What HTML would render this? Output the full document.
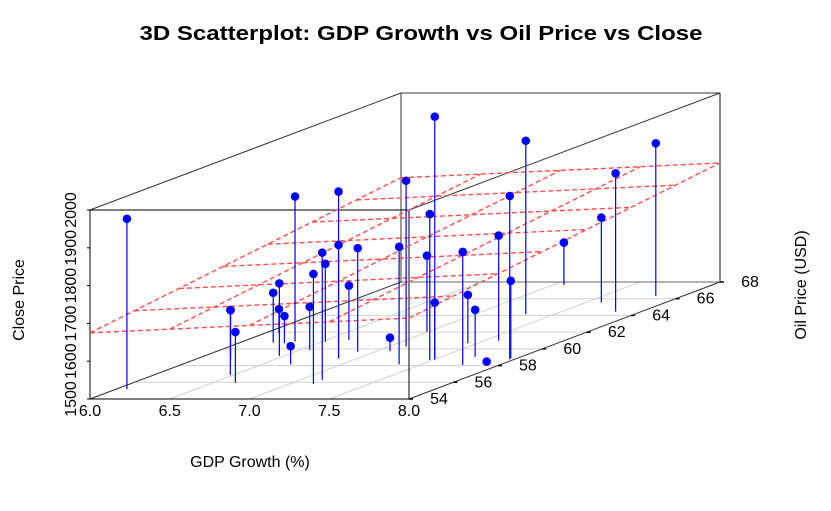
<!DOCTYPE html>
<html><head><meta charset="utf-8"><style>
body{margin:0;background:#fff;}
svg{display:block;font-family:"Liberation Sans",Arial,sans-serif;}
</style></head><body>
<svg id="chart" width="831" height="511" viewBox="0 0 831 511" xmlns="http://www.w3.org/2000/svg">
<rect width="831" height="511" fill="#fff"/>
<text x="421" y="40" text-anchor="middle" font-size="20" font-weight="bold" textLength="563" lengthAdjust="spacingAndGlyphs">3D Scatterplot: GDP Growth vs Oil Price vs Close</text>
<text x="250" y="467" text-anchor="middle" font-size="16">GDP Growth (%)</text>
<text transform="translate(24,300) rotate(-90)" text-anchor="middle" font-size="16">Close Price</text>
<text transform="translate(806,285) rotate(-90)" text-anchor="middle" font-size="16">Oil Price (USD)</text>
<g id="floor"></g><g id="box"></g><g id="plane"></g><g id="marks"></g><g id="ticks"></g>
</svg>
<script>
const gdpTicks=[6.0,6.5,7.0,7.5,8.0];
const oilTicks=[54,56,58,60,62,64,66,68];
const closeTicks=[1500,1600,1700,1800,1900,2000];
const gdp=[6.07,6.48,6.22,6.64,6.21,6.47,6.09,6.29,6.68,6.33,6.56,7.15,7.14,6.52,6.88,6.88,6.64,6.89,7.08,7.36,7.11,7.50,7.48,6.99,7.50,7.77,7.44,7.71,7.92,7.59,7.97,7.96,7.32,7.07,7.60,7.84,7.83];
const oil=[55.16,56.87,58.75,55.95,60.74,59.15,61.86,60.67,58.15,60.86,59.87,55.8,56.27,60.86,58.87,58.87,61.06,59.66,59.75,58.15,60.26,58.75,58.67,62.06,58.75,58.07,60.67,59.06,58.07,60.98,58.75,58.87,64.14,67.65,65.53,64.45,66.33];
const closeP=[1951,1672,1630,1634,1632,1692,1564,1572,1548,1884,1614,1791,1837,1706,1941,1800,1644,1774,1535,1811,1939,2142,1886,1701,1650,1799,1628,1624,1509,1778,1932,1705,1959,1612,1725,1866,1904];
const planeCoef=[1675,19.5,7.2];
const NS="http://www.w3.org/2000/svg";
const X0=90,X1=409,Y0=399,ZH=189,DX=311,DY=117;
function px(g,o){return X0+(g-6)/2*(X1-X0)+(o-54)/14*DX;}
function py(o,c){return Y0-(c-1500)/500*ZH-(o-54)/14*DY;}
function el(parent,tag,attrs){const e=document.createElementNS(NS,tag);for(const k in attrs)e.setAttribute(k,attrs[k]);document.getElementById(parent).appendChild(e);return e;}
oilTicks.forEach(o=>{const l=el('floor','line',{x1:px(6,o),y1:py(o,1500),x2:px(8,o),y2:py(o,1500),stroke:'#d0d0d0','stroke-width':1});

});
gdpTicks.forEach(g=>{const l=el('floor','line',{x1:px(g,54),y1:py(54,1500),x2:px(g,68),y2:py(68,1500),stroke:'#d0d0d0','stroke-width':1});

});
const boxLines=[[6,54,1500,6,68,1500,'#333'],[6,54,2000,6,68,2000,'#333'],[8,54,2000,8,68,2000,'#333'],[6,68,1500,8,68,1500,'#666'],[6,68,2000,8,68,2000,'#333'],[6,68,1500,6,68,2000,'#333'],[8,68,1500,8,68,2000,'#111'],[8,54,1500,8,68,1500,'#333']];
boxLines.forEach(b=>{const l=el('box','line',{x1:px(b[0],b[1]),y1:py(b[1],b[2]),x2:px(b[3],b[4]),y2:py(b[4],b[5]),stroke:b[6],'stroke-width':1});

});
function pc(g,o){return planeCoef[0]+planeCoef[1]*(g-6)+planeCoef[2]*(o-54);}
oilTicks.forEach(o=>{const l=el('plane','line',{x1:px(6,o),y1:py(o,pc(6,o)),x2:px(8,o),y2:py(o,pc(8,o)),stroke:'#ff4d4d','stroke-width':1.4,'stroke-dasharray':'5,3'});

});
gdpTicks.forEach(g=>{const l=el('plane','line',{x1:px(g,54),y1:py(54,pc(g,54)),x2:px(g,68),y2:py(68,pc(g,68)),stroke:'#ff4d4d','stroke-width':1.4,'stroke-dasharray':'5,3'});

});
gdp.forEach((g,i)=>{const o=oil[i],c=closeP[i],x=px(g,o);
const s=el('marks','line',{x1:x,y1:py(o,1500),x2:x,y2:py(o,c),stroke:'#0000ff','stroke-width':1.2});


const p=el('marks','circle',{cx:x,cy:py(o,c),r:4.3,fill:'#0000ff'});

});
const front=[[6,1500,8,1500],[6,2000,8,2000],[6,1500,6,2000],[8,1500,8,2000]];
front.forEach(f=>{const l=el('box','line',{x1:px(f[0],54),y1:py(54,f[1]),x2:px(f[2],54),y2:py(54,f[3]),stroke:'#000','stroke-width':1});

});
gdpTicks.forEach(g=>{const t=el('ticks','text',{x:px(g,54),y:Y0+17,'text-anchor':'middle','font-size':16});t.textContent=g.toFixed(1);

});
closeTicks.forEach(c=>{const y=py(54,c);
const tk=el('ticks','line',{x1:X0-3,y1:y,x2:X0,y2:y,stroke:'#000'});


const t=el('ticks','text',{transform:`translate(76,${y}) rotate(-90)`,'text-anchor':'middle','font-size':16});t.textContent=c;

});
oilTicks.forEach(o=>{const x=px(8,o),y=py(o,1500);
const tk=el('ticks','line',{x1:x,y1:y,x2:x+4,y2:y,stroke:'#000','stroke-width':1.5});


const t=el('ticks','text',{x:x+30,y:y+5,'text-anchor':'middle','font-size':16});t.textContent=o;

});
</script>
</body></html>
